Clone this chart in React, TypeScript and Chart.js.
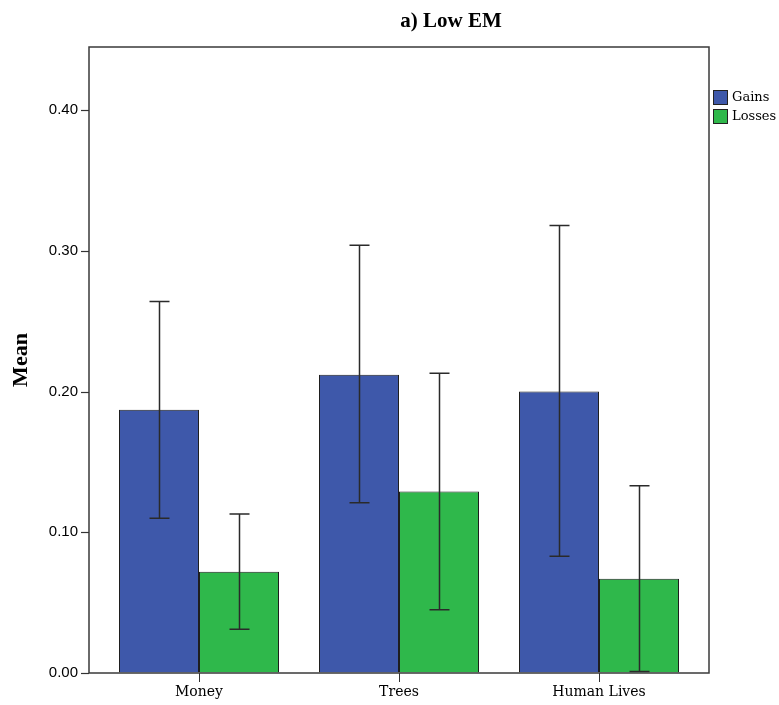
import React, { useEffect, useRef } from "react";
import { Chart, registerables } from "chart.js";

Chart.register(...registerables);

const categories = ["Money", "Trees", "Human Lives"];
const gainsMean = [0.187, 0.212, 0.200];
const gainsLow = [0.110, 0.121, 0.083];
const gainsHigh = [0.264, 0.304, 0.318];
const lossesMean = [0.072, 0.129, 0.067];
const lossesLow = [0.031, 0.045, 0.001];
const lossesHigh = [0.113, 0.213, 0.133];
const yTicks = [0, 0.1, 0.2, 0.3, 0.4];
const seriesNames = ["Gains", "Losses"];
const titleText = "a) Low EM";
const yTitle = "Mean";

const BLUE = "#3e58aa";
const GREEN = "#2fb84b";
const EXTRA = 10;

const extrasPlugin = {
  id: "extras",
  afterDatasetsDraw(chart: any) {
    const ctx = chart.ctx;
    const y = chart.scales.y;
    const lows = [gainsLow, lossesLow];
    const highs = [gainsHigh, lossesHigh];
    ctx.save();
    ctx.strokeStyle = "#2a2a2a";
    ctx.lineWidth = 1.5;
    for (let d = 0; d < 2; d++) {
      const meta = chart.getDatasetMeta(d);
      meta.data.forEach((bar: any, i: number) => {
        const x = Math.round(bar.x) + 0.5;
        const yl = y.getPixelForValue(lows[d][i]);
        const yh = y.getPixelForValue(highs[d][i]);
        ctx.beginPath();
        ctx.moveTo(x, yl);
        ctx.lineTo(x, yh);
        ctx.moveTo(x - 10, yl);
        ctx.lineTo(x + 10, yl);
        ctx.moveTo(x - 10, yh);
        ctx.lineTo(x + 10, yh);
        ctx.stroke();
      });
    }
    // plot border
    const a = chart.chartArea;
    const L = a.left - EXTRA;
    const R = a.right + EXTRA;
    ctx.strokeStyle = "#3a3a3a";
    ctx.lineWidth = 1.5;
    ctx.strokeRect(L, a.top, R - L, a.bottom - a.top);
    // y tick marks
    ctx.lineWidth = 1.2;
    ctx.strokeStyle = "#333";
    yTicks.forEach((v) => {
      const py = Math.round(y.getPixelForValue(v)) + 0.5;
      ctx.beginPath();
      ctx.moveTo(L - 8, py);
      ctx.lineTo(L, py);
      ctx.stroke();
    });
    // title
    ctx.fillStyle = "#000";
    ctx.font = "bold 21px 'Liberation Serif'";
    ctx.textAlign = "center";
    ctx.textBaseline = "middle";
    ctx.fillText(titleText, 451, 22);
    // y title
    ctx.save();
    ctx.translate(21, 360);
    ctx.rotate(-Math.PI / 2);
    ctx.font = "bold 22px 'Liberation Serif'";
    ctx.fillText(yTitle, 0, 0);
    ctx.restore();
    // legend
    const colors = [BLUE, GREEN];
    ctx.font = "13px 'DejaVu Serif'";
    ctx.textAlign = "left";
    for (let k = 0; k < 2; k++) {
      const ty = 90 + k * 19;
      ctx.fillStyle = colors[k];
      ctx.fillRect(713, ty, 15, 15);
      ctx.strokeStyle = "#222";
      ctx.lineWidth = 1;
      ctx.strokeRect(713.5, ty + 0.5, 14, 14);
      ctx.fillStyle = "#000";
      ctx.fillText(seriesNames[k], 732, ty + 8);
    }
    ctx.restore();
  },
};

export default function App() {
  const ref = useRef<HTMLCanvasElement>(null);
  useEffect(() => {
    document.body.style.margin = "0";
    const chart = new Chart(ref.current!, {
      type: "bar",
      data: {
        labels: categories,
        datasets: [
          {
            label: seriesNames[0],
            data: gainsMean,
            backgroundColor: BLUE,
            borderColor: "#1e1e1e",
            borderWidth: 1,
          },
          {
            label: seriesNames[1],
            data: lossesMean,
            backgroundColor: GREEN,
            borderColor: "#1e1e1e",
            borderWidth: 1,
          },
        ],
      },
      options: {
        animation: false,
        responsive: false,
        maintainAspectRatio: false,
        layout: { padding: { top: 47, right: 80, bottom: 0, left: 0 } },
        datasets: { bar: { categoryPercentage: 0.8, barPercentage: 1 } },
        plugins: {
          legend: { display: false },
          title: { display: false },
          tooltip: { enabled: false },
        },
        scales: {
          x: {
            afterFit(s: any) {
              s.height = 32;
            },
            grid: {
              offset: false,
              drawOnChartArea: false,
              drawTicks: true,
              tickLength: 9,
              color: "#333",
            },
            border: { display: false },
            ticks: {
              color: "#000",
              padding: 2,
              font: { family: "'DejaVu Serif'", size: 14 },
            },
          },
          y: {
            min: 0,
            max: 0.4448,
            afterFit(s: any) {
              s.width = 99;
            },
            afterBuildTicks(s: any) {
              s.ticks = yTicks.map((v) => ({ value: v }));
            },
            grid: {
              drawOnChartArea: false,
              drawTicks: false,
            },
            border: { display: false },
            ticks: {
              color: "#000",
              padding: 21,
              font: { family: "'Liberation Sans'", size: 15 },
              callback: (v: any) => Number(v).toFixed(2),
            },
          },
        },
      },
      plugins: [extrasPlugin],
    });
    return () => chart.destroy();
  }, []);
  return (
    <div style={{ width: 779, height: 705, background: "#fff" }}>
      <canvas ref={ref} width={779} height={705} />
    </div>
  );
}
